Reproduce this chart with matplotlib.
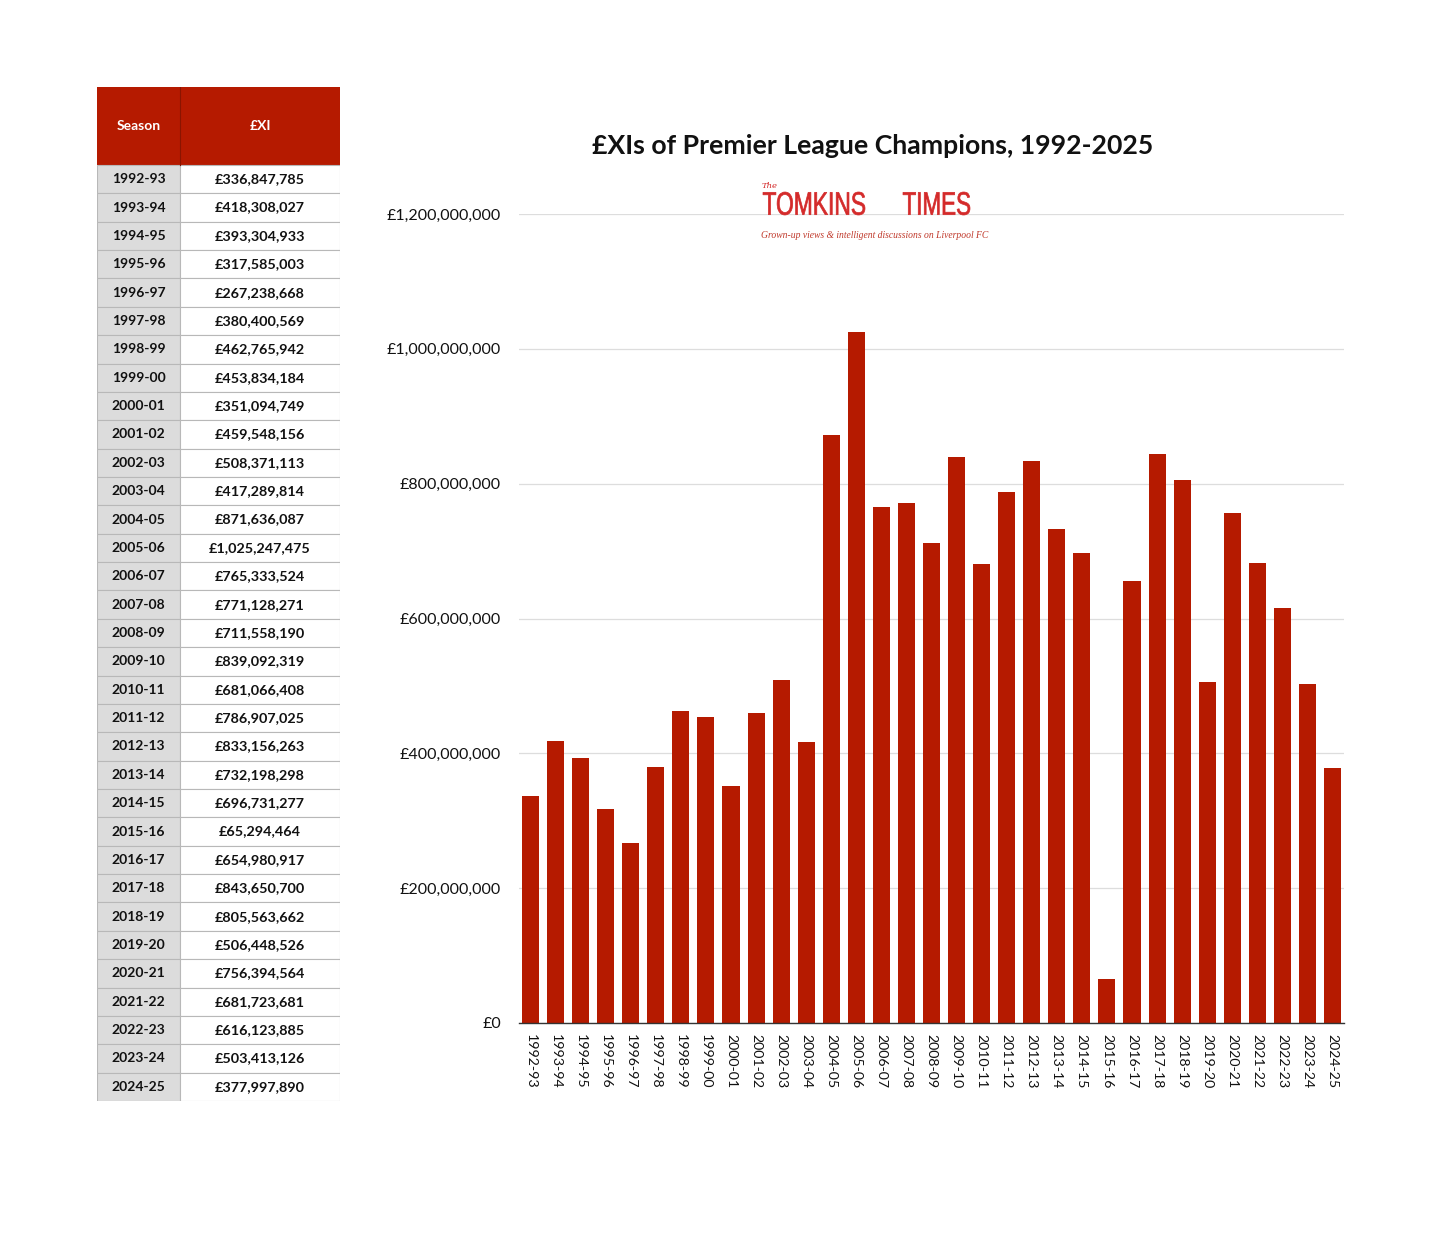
import matplotlib
import matplotlib.pyplot as plt
from matplotlib.font_manager import FontProperties
from matplotlib.patches import PathPatch, Rectangle
from matplotlib.textpath import TextPath
from matplotlib.ticker import FuncFormatter
from matplotlib.transforms import Affine2D

matplotlib.use("Agg")

plt.rcParams["font.family"] = ["Lato", "DejaVu Sans"]

seasons = [
    "1992-93", "1993-94", "1994-95", "1995-96", "1996-97", "1997-98",
    "1998-99", "1999-00", "2000-01", "2001-02", "2002-03", "2003-04",
    "2004-05", "2005-06", "2006-07", "2007-08", "2008-09", "2009-10",
    "2010-11", "2011-12", "2012-13", "2013-14", "2014-15", "2015-16",
    "2016-17", "2017-18", "2018-19", "2019-20", "2020-21", "2021-22",
    "2022-23", "2023-24", "2024-25",
]
xi_values = [
    336847785, 418308027, 393304933, 317585003, 267238668, 380400569,
    462765942, 453834184, 351094749, 459548156, 508371113, 417289814,
    871636087, 1025247475, 765333524, 771128271, 711558190, 839092319,
    681066408, 786907025, 833156263, 732198298, 696731277, 65294464,
    654980917, 843650700, 805563662, 506448526, 756394564, 681723681,
    616123885, 503413126, 377997890,
]
y_ticks = [0, 200e6, 400e6, 600e6, 800e6, 1000e6, 1200e6]
table_header = ["Season", "£XI"]

RED = "#b51a00"
LOGO_RED = "#d42a2a"
W, H = 1456, 1252

fig = plt.figure(figsize=(W / 100, H / 100), dpi=100)


def fig_box(x0, y0, x1, y1):
    # pixel box (top-left origin) -> figure fraction rect
    return [x0 / W, 1 - y1 / H, (x1 - x0) / W, (y1 - y0) / H]


# ---- table on the left ----
tab = fig.add_axes(fig_box(97, 87, 340, 1101))
tab.set_xlim(0, 243)
tab.set_ylim(1014, 0)
tab.axis("off")

header_h = 78
row_h = (1014 - header_h) / len(seasons)
col_split = 83

tab.add_patch(Rectangle((0, 0), 243, header_h, facecolor=RED, edgecolor="none"))
tab.plot([col_split, col_split], [0, header_h], color="#8a1400", lw=0.8)
tab.text(col_split / 2, header_h / 2, table_header[0], color="white",
         ha="center", va="center", fontsize=10, fontweight="bold")
tab.text((col_split + 243) / 2, header_h / 2, table_header[1], color="white",
         ha="center", va="center", fontsize=10, fontweight="bold")

for i, (s, v) in enumerate(zip(seasons, xi_values)):
    y0 = header_h + i * row_h
    tab.add_patch(Rectangle((0, y0), col_split, row_h, facecolor="#dcdcdc",
                            edgecolor="#b8b8b8", lw=0.8))
    tab.add_patch(Rectangle((col_split, y0), 243 - col_split, row_h,
                            facecolor="white", edgecolor="#b8b8b8", lw=0.8))
    tab.text(col_split / 2, y0 + row_h / 2, s, ha="center", va="center",
             fontsize=10, fontweight="bold", color="#111111")
    tab.text((col_split + 243) / 2, y0 + row_h / 2, f"£{v:,}", ha="center",
             va="center", fontsize=10.4, fontweight="bold", color="#111111")

# ---- bar chart ----
ax = fig.add_axes(fig_box(519, 214, 1344, 1023))
x = range(len(seasons))
ax.bar(x, xi_values, width=0.68, color=RED, zorder=2)
ax.set_xlim(-0.46, len(seasons) - 0.54)
ax.set_ylim(0, 1.2e9)
ax.set_yticks(y_ticks)
ax.yaxis.set_major_formatter(FuncFormatter(lambda v, p: f"£{int(v):,}"))
ax.set_xticks(list(x))
ax.set_xticklabels(seasons, rotation=-90)
ax.tick_params(axis="y", length=0, labelsize=11.5, colors="#111111", pad=13)
ax.tick_params(axis="x", length=0, labelsize=10.2, colors="#111111", pad=8)
ax.grid(axis="y", color="#dddddd", lw=0.9, zorder=0)
ax.set_axisbelow(True)
for side in ["top", "right", "left"]:
    ax.spines[side].set_visible(False)
ax.spines["bottom"].set_color("#333333")
ax.spines["bottom"].set_linewidth(1.0)
ax.spines["bottom"].set_zorder(3)

fig.text(873 / W, 1 - 146 / H, "£XIs of Premier League Champions, 1992-2025",
         ha="center", va="center", fontsize=19.2, fontweight="bold", color="#111111")

# ---- logo, text squeezed into pixel boxes ----
over = fig.add_axes([0, 0, 1, 1], zorder=5)
over.set_xlim(0, W)
over.set_ylim(H, 0)
over.axis("off")


def boxed_text(s, x0, y0, x1, y1, prop):
    tp = TextPath((0, 0), s, size=10, prop=prop)
    ext = tp.get_extents()
    sx = (x1 - x0) / ext.width
    sy = (y1 - y0) / ext.height
    tr = Affine2D().translate(-ext.x0, -ext.y0).scale(sx, -sy).translate(x0, y1)
    over.add_patch(PathPatch(tr.transform_path(tp), facecolor=LOGO_RED,
                             edgecolor=LOGO_RED, lw=0.5))


logo_font = FontProperties(family="Liberation Sans")
boxed_text("TOMKINS", 763, 192, 865, 215, logo_font)
boxed_text("TIMES", 903, 192, 970, 215, logo_font)
fig.text(762 / W, 1 - 186 / H, "The", ha="left", va="center", fontsize=6,
         style="italic", color=LOGO_RED, family=["DejaVu Serif"])
fig.text(875 / W, 1 - 235 / H,
         "Grown-up views & intelligent discussions on Liverpool FC",
         ha="center", va="center", fontsize=6.9, style="italic",
         color="#c0392b", family=["Liberation Serif", "DejaVu Serif"])

fig.savefig("out.png", dpi=100, facecolor="white")
